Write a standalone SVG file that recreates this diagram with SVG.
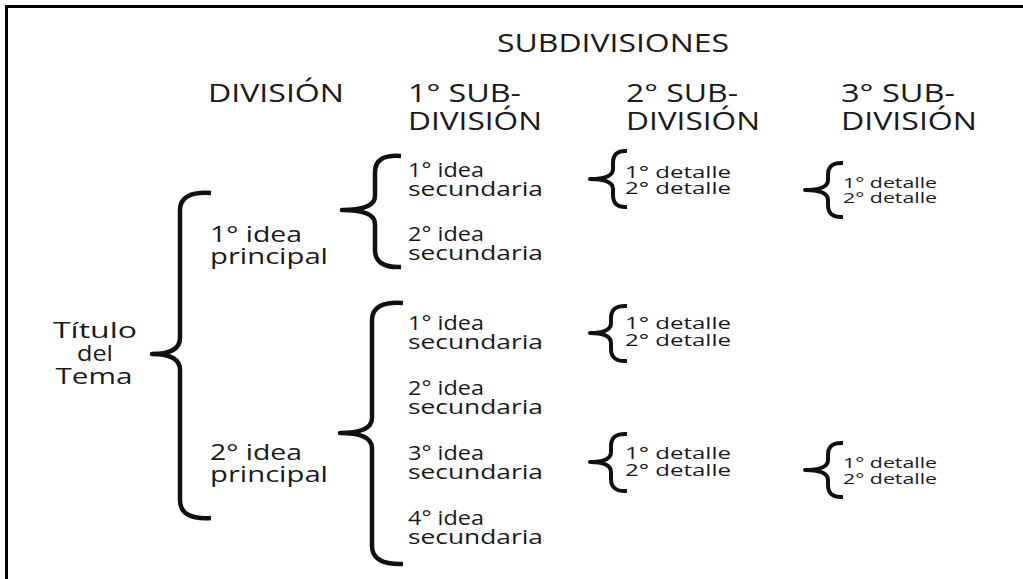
<svg xmlns="http://www.w3.org/2000/svg" width="1023" height="579" viewBox="0 0 1023 579">
<style>
text{font-family:"Open Sans","Noto Sans","Liberation Sans",sans-serif;fill:#1a1a1a;font-weight:500}
.h{font-size:25px}
.l{font-size:22px}
.s{font-size:19.5px}
.d{font-size:16.5px}
.e{font-size:14.5px}
.br{fill:none;stroke:#111;stroke-width:4.5;stroke-linejoin:round}
.bs{fill:none;stroke:#111;stroke-width:4;stroke-linejoin:round}
</style>
<rect width="1023" height="579" fill="#fff"/>
<path d="M5,6.5 H1023 M6.5,5 V579" stroke="#000" stroke-width="3" fill="none"/>
<g id="headers">
<text class="h" x="497" y="52" textLength="232" lengthAdjust="spacingAndGlyphs">SUBDIVISIONES</text>
<text class="h" x="208" y="102" textLength="136" lengthAdjust="spacingAndGlyphs">DIVISIÓN</text>
<text class="h"><tspan x="408" y="102" textLength="113" lengthAdjust="spacingAndGlyphs">1° SUB-</tspan><tspan x="408" y="130" textLength="134" lengthAdjust="spacingAndGlyphs">DIVISIÓN</tspan></text>
<text class="h"><tspan x="626" y="102" textLength="112" lengthAdjust="spacingAndGlyphs">2° SUB-</tspan><tspan x="626" y="130" textLength="134" lengthAdjust="spacingAndGlyphs">DIVISIÓN</tspan></text>
<text class="h"><tspan x="841" y="102" textLength="114" lengthAdjust="spacingAndGlyphs">3° SUB-</tspan><tspan x="841" y="130" textLength="136" lengthAdjust="spacingAndGlyphs">DIVISIÓN</tspan></text>
</g>
<g id="titulo">
<text class="l" text-anchor="middle"><tspan x="95" y="338" textLength="84" lengthAdjust="spacingAndGlyphs">Título</tspan><tspan x="95" y="361" textLength="36" lengthAdjust="spacingAndGlyphs">del</tspan><tspan x="94" y="384" textLength="77" lengthAdjust="spacingAndGlyphs">Tema</tspan></text>
</g>
<g id="principal1">
<text class="l"><tspan x="210" y="242" textLength="92" lengthAdjust="spacingAndGlyphs">1° idea</tspan><tspan x="210" y="264" textLength="118" lengthAdjust="spacingAndGlyphs">principal</tspan></text>
</g>
<g id="principal2">
<text class="l"><tspan x="210" y="460" textLength="92" lengthAdjust="spacingAndGlyphs">2° idea</tspan><tspan x="210" y="482" textLength="118" lengthAdjust="spacingAndGlyphs">principal</tspan></text>
</g>
<g id="sec-1-1">
<text class="s"><tspan x="408" y="177" textLength="76" lengthAdjust="spacingAndGlyphs">1° idea</tspan><tspan x="408" y="196" textLength="135" lengthAdjust="spacingAndGlyphs">secundaria</tspan></text>
</g>
<g id="sec-1-2">
<text class="s"><tspan x="408" y="241" textLength="76" lengthAdjust="spacingAndGlyphs">2° idea</tspan><tspan x="408" y="260" textLength="135" lengthAdjust="spacingAndGlyphs">secundaria</tspan></text>
</g>
<g id="sec-2-1">
<text class="s"><tspan x="408" y="330" textLength="76" lengthAdjust="spacingAndGlyphs">1° idea</tspan><tspan x="408" y="349" textLength="135" lengthAdjust="spacingAndGlyphs">secundaria</tspan></text>
</g>
<g id="sec-2-2">
<text class="s"><tspan x="408" y="395" textLength="76" lengthAdjust="spacingAndGlyphs">2° idea</tspan><tspan x="408" y="414" textLength="135" lengthAdjust="spacingAndGlyphs">secundaria</tspan></text>
</g>
<g id="sec-2-3">
<text class="s"><tspan x="408" y="460" textLength="76" lengthAdjust="spacingAndGlyphs">3° idea</tspan><tspan x="408" y="479" textLength="135" lengthAdjust="spacingAndGlyphs">secundaria</tspan></text>
</g>
<g id="sec-2-4">
<text class="s"><tspan x="408" y="525" textLength="76" lengthAdjust="spacingAndGlyphs">4° idea</tspan><tspan x="408" y="544" textLength="135" lengthAdjust="spacingAndGlyphs">secundaria</tspan></text>
</g>
<g id="det-a">
<text class="d"><tspan x="625" y="178" textLength="106" lengthAdjust="spacingAndGlyphs">1° detalle</tspan><tspan x="625" y="194" textLength="106" lengthAdjust="spacingAndGlyphs">2° detalle</tspan></text>
</g>
<g id="det-b">
<text class="d"><tspan x="625" y="329" textLength="106" lengthAdjust="spacingAndGlyphs">1° detalle</tspan><tspan x="625" y="346" textLength="106" lengthAdjust="spacingAndGlyphs">2° detalle</tspan></text>
</g>
<g id="det-c">
<text class="d"><tspan x="625" y="459" textLength="106" lengthAdjust="spacingAndGlyphs">1° detalle</tspan><tspan x="625" y="476" textLength="106" lengthAdjust="spacingAndGlyphs">2° detalle</tspan></text>
</g>
<g id="det3-a">
<text class="e"><tspan x="843" y="188" textLength="94" lengthAdjust="spacingAndGlyphs">1° detalle</tspan><tspan x="843" y="203" textLength="94" lengthAdjust="spacingAndGlyphs">2° detalle</tspan></text>
</g>
<g id="det3-b">
<text class="e"><tspan x="843" y="468" textLength="94" lengthAdjust="spacingAndGlyphs">1° detalle</tspan><tspan x="843" y="484" textLength="94" lengthAdjust="spacingAndGlyphs">2° detalle</tspan></text>
</g>
<g id="connectors">
<path class="br" d="M211,193 Q180,191 180,210 L180,338 Q180,354 152,354 Q180,354 180,370 L180,500 Q180,520 211,518"/>
<path class="br" d="M401,156 Q375,154 375,172 L375,196 Q375,210 342,210 Q375,210 375,224 L375,250 Q375,268 401,267"/>
<path class="br" d="M403,303 Q372,301 372,320 L372,418 Q372,433 340,433 Q372,433 372,448 L372,546 Q372,565 403,564"/>
<path class="bs" d="M627,151 Q613,150 613,163 L613,169 Q613,179 590,179 Q613,179 613,189 L613,195 Q613,208 627,207"/>
<path class="bs" d="M627,306 Q611,305 611,318 L611,323 Q611,333 590,333 Q611,333 611,343 L611,349 Q611,362 627,361"/>
<path class="bs" d="M627,434 Q611,433 611,446 L611,452 Q611,462 590,462 Q611,462 611,472 L611,479 Q611,492 627,491"/>
<path class="bs" d="M843,163 Q828,162 828,175 L828,180 Q828,190 805,190 Q828,190 828,200 L828,205 Q828,218 843,217"/>
<path class="bs" d="M843,443 Q828,442 828,455 L828,460 Q828,470 805,470 Q828,470 828,480 L828,485 Q828,498 843,497"/>
</g>
</svg>
